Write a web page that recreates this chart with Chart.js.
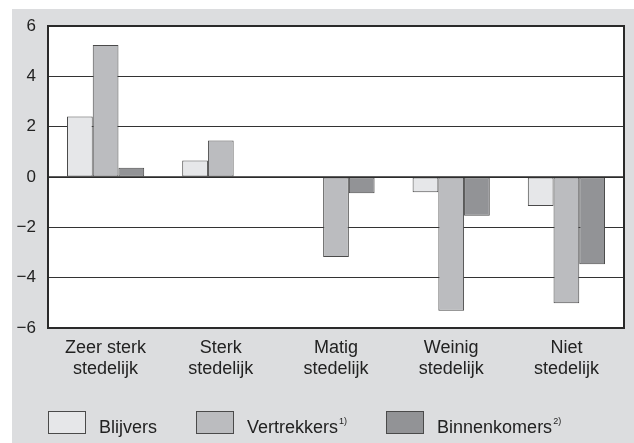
<!DOCTYPE html>
<html>
    <head>
        <meta charset="utf-8">
        <title>Stedelijkheid</title>
        <script src="https://cdn.jsdelivr.net/npm/chart.js"></script>
        <style>
            html, body { margin: 0; padding: 0; background: #ffffff; }
            #wrap { position: absolute; left: 0; top: 0; width: 634px; height: 443px; }
            #legend { position: absolute; left: 48px; top: 411px; display: flex; font-family: "Liberation Sans", Arial, sans-serif; font-size: 18px; color: #222; }
            .item { display: flex; align-items: flex-start; margin-right: 39px; }
            .box { width: 38px; height: 23px; box-sizing: border-box; border: 1px solid #4a4a4a; margin-right: 13px; }
            .txt { line-height: 23px; padding-top: 5px; white-space: nowrap; }
            .txt sup { font-size: 9px; vertical-align: 9px; line-height: 0; margin-left: 1px; }
        </style>
    </head>
    <body>
        <div id="wrap"><canvas id="chart" width="634" height="443"></canvas></div>
        <div id="legend"></div>
        <script>
            // categories and series
            const categories = [['Zeer sterk', 'stedelijk'], ['Sterk', 'stedelijk'], ['Matig', 'stedelijk'], ['Weinig', 'stedelijk'], ['Niet', 'stedelijk']];
            const seriesNames = ['Blijvers', 'Vertrekkers', 'Binnenkomers'];
            const seriesNotes = ['', '1)', '2)'];
            const blijvers = [2.40, 0.66, 0.02, -0.61, -1.15];
            const vertrekkers = [5.25, 1.45, -3.18, -5.31, -5.02];
            const binnenkomers = [0.37, 0, -0.65, -1.54, -3.47];
            const yTicks = [6, 4, 2, 0, -2, -4, -6];
            const colors = ['#e6e7e9', '#bbbcbf', '#929396'];

            const family = '"Liberation Sans", Arial, sans-serif';

            // gray page background, white plot area, frame and zero line
            const backdrop = {
                id: 'backdrop',
                beforeDraw(chart) {
                    const c = chart.ctx;
                    const a = chart.chartArea;
                    c.save();
                    c.fillStyle = '#dcdddf';
                    c.fillRect(12, 9, chart.width - 12, chart.height - 9);
                    c.fillStyle = '#ffffff';
                    c.fillRect(a.left, a.top, a.right - a.left, a.bottom - a.top);
                    c.restore();
                },
                afterDatasetsDraw(chart) {
                    const c = chart.ctx;
                    const a = chart.chartArea;
                    const y0 = chart.scales.y.getPixelForValue(0);
                    c.save();
                    c.strokeStyle = '#2a2a2a';
                    c.lineWidth = 1.5;
                    c.beginPath();
                    c.moveTo(a.left, y0);
                    c.lineTo(a.right, y0);
                    c.stroke();
                    c.lineWidth = 2;
                    c.strokeRect(a.left, a.top, a.right - a.left, a.bottom - a.top);
                    c.restore();
                }
            };

            const values = [blijvers, vertrekkers, binnenkomers];

            new Chart(document.getElementById('chart'), {
                type: 'bar',
                data: {
                    labels: categories,
                    datasets: seriesNames.map((name, i) => ({
                        label: name,
                        data: values[i],
                        backgroundColor: colors[i]
                    }))
                },
                options: {
                    responsive: false,
                    animation: false,
                    layout: { padding: { top: 26, right: 10, bottom: 55, left: 12 } },
                    datasets: {
                        bar: {
                            categoryPercentage: 0.67,
                            barPercentage: 1,
                            borderColor: '#4a4a4a',
                            borderWidth: 1,
                            borderSkipped: false
                        }
                    },
                    plugins: {
                        tooltip: { enabled: false },
                        legend: { display: false }
                    },
                    scales: {
                        x: {
                            grid: { display: false, drawTicks: false },
                            border: { display: false },
                            ticks: { color: '#222', font: { family: family, size: 18, lineHeight: 1.15 }, padding: 10, maxRotation: 0 },
                            afterFit(scale) { scale.height = 60; }
                        },
                        y: {
                            min: -6,
                            max: 6,
                            afterBuildTicks(scale) { scale.ticks = yTicks.map(v => ({ value: v })); },
                            grid: {
                                drawTicks: false,
                                color: '#333',
                                lineWidth: 1
                            },
                            border: { display: false },
                            ticks: {
                                color: '#222',
                                font: { family: family, size: 17 },
                                padding: 12,
                                callback: v => v < 0 ? '\u2212' + Math.abs(v) : String(v)
                            },
                            afterFit(scale) { scale.width = 36; }
                        }
                    }
                },
                plugins: [backdrop]
            });

            // legend as html text, built from the series
            const legend = document.getElementById('legend');
            seriesNames.forEach((name, i) => {
                const item = document.createElement('div');
                item.className = 'item';
                const box = document.createElement('div');
                box.className = 'box';
                box.style.background = colors[i];
                const txt = document.createElement('div');
                txt.className = 'txt';
                txt.textContent = name;
                if (seriesNotes[i]) {
                    const sup = document.createElement('sup');
                    sup.textContent = seriesNotes[i];
                    txt.appendChild(sup);
                }
                item.appendChild(box);
                item.appendChild(txt);
                legend.appendChild(item);
            });
        </script>
    </body>
</html>
